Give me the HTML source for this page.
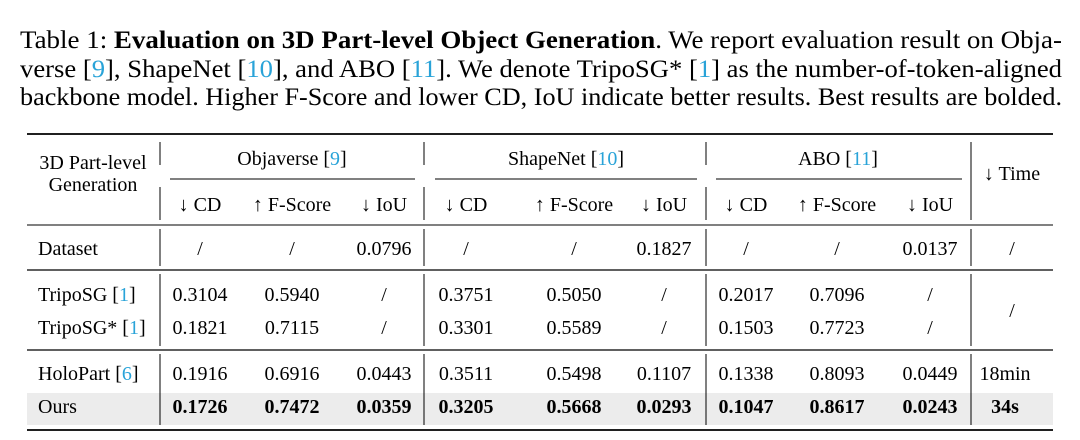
<!DOCTYPE html>
<html><head><meta charset="utf-8"><style>
html,body{margin:0;padding:0;background:#fff;}
svg{display:block;font-family:"Liberation Serif",serif;}
.c{fill:#29a3d8}
</style></head><body>
<svg width="1080" height="440" viewBox="0 0 1080 440" xmlns="http://www.w3.org/2000/svg">
<g font-size="25" fill="#000">
<text x="20" y="48" textLength="1042" lengthAdjust="spacingAndGlyphs">Table 1: <tspan font-weight="bold">Evaluation on 3D Part-level Object Generation</tspan>. We report evaluation result on Obja-</text>
<text x="20" y="77" textLength="1042" lengthAdjust="spacingAndGlyphs">verse [<tspan class="c">9</tspan>], ShapeNet [<tspan class="c">10</tspan>], and ABO [<tspan class="c">11</tspan>]. We denote TripoSG* [<tspan class="c">1</tspan>] as the number-of-token-aligned</text>
<text x="20" y="105" textLength="1042" lengthAdjust="spacingAndGlyphs">backbone model. Higher F-Score and lower CD, IoU indicate better results. Best results are bolded.</text>
</g>
<rect x="27" y="393" width="1026" height="32" fill="#ececec"/>
<g stroke="#000">
<line x1="27" y1="134" x2="1053" y2="134" stroke-width="1.8"/>
<line x1="170" y1="179" x2="415" y2="179" stroke-width="1"/>
<line x1="435" y1="179" x2="697" y2="179" stroke-width="1"/>
<line x1="716" y1="179" x2="962" y2="179" stroke-width="1"/>
<line x1="27" y1="225" x2="1053" y2="225" stroke-width="1"/>
<line x1="27" y1="270" x2="1053" y2="270" stroke-width="1.2"/>
<line x1="27" y1="350" x2="1053" y2="350" stroke-width="1.2"/>
<line x1="27" y1="430" x2="1053" y2="430" stroke-width="1.8"/>
<g stroke-width="1">
<path d="M160 142V165M160 187V220M160 229V266M160 274V346M160 354V425"/>
<path d="M424 142V165M424 187V220M424 229V266M424 274V346M424 354V425"/>
<path d="M706 142V165M706 187V220M706 229V266M706 274V346M706 354V425"/>
<path d="M971 142V220M971 229V266M971 274V346M971 354V425"/>
</g>
</g>
<g font-size="20" fill="#000" text-anchor="middle">
<text x="93" y="169">3D Part-level</text>
<text x="93" y="191">Generation</text>
<text x="292" y="165">Objaverse [<tspan class="c">9</tspan>]</text>
<text x="566" y="165">ShapeNet [<tspan class="c">10</tspan>]</text>
<text x="838" y="165">ABO [<tspan class="c">11</tspan>]</text>
<text x="1012" y="180">↓ Time</text>
<g>
<text x="200" y="211">↓ CD</text><text x="292" y="211">↑ F-Score</text><text x="384" y="211">↓ IoU</text>
<text x="466" y="211">↓ CD</text><text x="574" y="211">↑ F-Score</text><text x="664" y="211">↓ IoU</text>
<text x="746" y="211">↓ CD</text><text x="837" y="211">↑ F-Score</text><text x="930" y="211">↓ IoU</text>
</g>
<g>
<text x="200" y="255">/</text><text x="292" y="255">/</text><text x="384" y="255">0.0796</text>
<text x="466" y="255">/</text><text x="574" y="255">/</text><text x="664" y="255">0.1827</text>
<text x="746" y="255">/</text><text x="837" y="255">/</text><text x="930" y="255">0.0137</text>
<text x="1012" y="255">/</text>
</g>
<g>
<text x="200" y="301">0.3104</text><text x="292" y="301">0.5940</text><text x="384" y="301">/</text>
<text x="466" y="301">0.3751</text><text x="574" y="301">0.5050</text><text x="664" y="301">/</text>
<text x="746" y="301">0.2017</text><text x="837" y="301">0.7096</text><text x="930" y="301">/</text>
<text x="1012" y="317">/</text>
<text x="200" y="334">0.1821</text><text x="292" y="334">0.7115</text><text x="384" y="334">/</text>
<text x="466" y="334">0.3301</text><text x="574" y="334">0.5589</text><text x="664" y="334">/</text>
<text x="746" y="334">0.1503</text><text x="837" y="334">0.7723</text><text x="930" y="334">/</text>
</g>
<g>
<text x="200" y="380">0.1916</text><text x="292" y="380">0.6916</text><text x="384" y="380">0.0443</text>
<text x="466" y="380">0.3511</text><text x="574" y="380">0.5498</text><text x="664" y="380">0.1107</text>
<text x="746" y="380">0.1338</text><text x="837" y="380">0.8093</text><text x="930" y="380">0.0449</text>
<text x="1005" y="380">18min</text>
</g>
<g font-weight="bold">
<text x="200" y="413">0.1726</text><text x="292" y="413">0.7472</text><text x="384" y="413">0.0359</text>
<text x="466" y="413">0.3205</text><text x="574" y="413">0.5668</text><text x="664" y="413">0.0293</text>
<text x="746" y="413">0.1047</text><text x="837" y="413">0.8617</text><text x="930" y="413">0.0243</text>
<text x="1005" y="413">34s</text>
</g>
</g>
<g font-size="20" fill="#000">
<text x="38" y="255">Dataset</text>
<text x="38" y="301">TripoSG [<tspan class="c">1</tspan>]</text>
<text x="38" y="334">TripoSG* [<tspan class="c">1</tspan>]</text>
<text x="38" y="380">HoloPart [<tspan class="c">6</tspan>]</text>
<text x="38" y="413">Ours</text>
</g>
</svg>
</body></html>
